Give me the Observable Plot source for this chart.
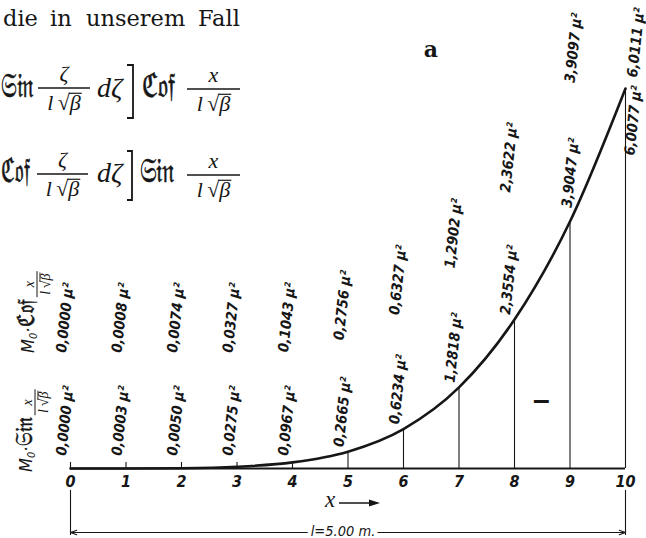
<!DOCTYPE html>
<html lang="de">
<head>
<meta charset="utf-8">
<title>Momentenlinie</title>
<script src="https://cdn.jsdelivr.net/npm/d3@7"></script>
<script src="https://cdn.jsdelivr.net/npm/@observablehq/plot@0.6"></script>
<style>
  html, body { margin: 0; background: #fff; }
  #page { position: relative; width: 646px; height: 538px; overflow: hidden; background: #fff; }
  #page > svg { position: absolute; left: 0; top: 0; }
</style>
</head>
<body>
<div id="page"></div>
<script>
// Stations along the beam (tenths of the span) and the two moment series in μ²
const xs = [0, 1, 2, 3, 4, 5, 6, 7, 8, 9, 10];
const sinValues = [0.0000, 0.0003, 0.0050, 0.0275, 0.0967, 0.2665, 0.6234, 1.2818, 2.3554, 3.9047, 6.0077];
const cosValues = [0.0000, 0.0008, 0.0074, 0.0327, 0.1043, 0.2756, 0.6327, 1.2902, 2.3622, 3.9097, 6.0111];
const tickLabels = ["0", "1", "2", "3", "4", "5", "6", "7", "8", "9", "10"];
const spanLabel = "l=5.00 m.";

const INK = "#161616";
const NARROW = "'DejaVu Sans Condensed', 'Liberation Sans Narrow', 'DejaVu Sans', sans-serif";
const SERIF = "'DejaVu Serif', 'Liberation Serif', serif";
const MATH = "'Liberation Serif', 'DejaVu Serif', serif";
const SIN = "\u{1D516}\u{1D526}\u{1D52B}";   // Fraktur "Sin"
const COF = "\u212D\u{1D52C}\u{1D523}";      // Fraktur "Cof"

const rows = xs.map((x, i) => ({x, sin: sinValues[i], cos: cosValues[i], i}));
const last = rows.length - 1;
const mid = (xs[0] + xs[last]) / 2;
const fmt = v => v.toFixed(4).replace(".", ",") + " μ²";

const W = 646, H = 538, mTop = 88.5, mBottom = 70;
const yMax = 6;
const PX = (H - mTop - mBottom) / yMax;   // pixels per μ² unit
const u = px => px / PX;                   // pixel offset in y units

// Cof labels sit above the Sin labels and climb with the curve
const cosLabelY = d => Math.max(u(116), u(109) + 1.12 * d.cos);

const labelStyle = {fontFamily: NARROW, fontSize: 14.5, fontStyle: "italic", fontWeight: "bold", fill: INK, rotate: -84};
const early = rows.filter(d => d.i < 9);
const ninth = rows.filter(d => d.i === 9);
const end = rows.filter(d => d.i === last);

const chart = Plot.plot({
  width: W, height: H,
  marginTop: mTop, marginBottom: mBottom, marginLeft: 70, marginRight: 21,
  style: {background: "transparent", color: INK},
  x: {domain: [xs[0], xs[last]]},
  y: {domain: [0, yMax], axis: null},
  marks: [
    Plot.ruleY([0], {x1: xs[0], x2: xs[last], stroke: INK, strokeWidth: 2}),
    // station ticks and ordinates up to the curve
    Plot.ruleX(rows, {x: "x", y1: 0, y2: d => Math.max(d.sin, u(6)), stroke: INK, strokeWidth: 1.1}),
    Plot.line(rows, {x: "x", y: "sin", curve: "monotone-x", stroke: INK, strokeWidth: 2.6}),
    // lower row: M0·Sin values
    Plot.text(early, {x: "x", y: d => Math.max(d.sin, u(8)), text: d => fmt(d.sin), textAnchor: "start", dx: -9, dy: -5, ...labelStyle}),
    Plot.text(ninth, {x: "x", y: "sin", text: d => fmt(d.sin), textAnchor: "start", dx: -3, dy: -14, ...labelStyle}),
    Plot.text(end, {x: "x", y: "sin", text: d => fmt(d.sin), textAnchor: "end", dx: 11.5, dy: -3, ...labelStyle}),
    // upper row: M0·Cof values
    Plot.text(early, {x: "x", y: cosLabelY, text: d => fmt(d.cos), textAnchor: "start", dx: -9, ...labelStyle}),
    Plot.text(ninth, {x: "x", y: cosLabelY, text: d => fmt(d.cos), textAnchor: "start", dx: 0, ...labelStyle}),
    Plot.text(end, {x: "x", y: "cos", text: d => fmt(d.cos), textAnchor: "start", dx: 7, dy: -11, ...labelStyle}),
    Plot.axisX(xs, {
      tickSize: 0, tickPadding: 7, label: null,
      tickFormat: d => tickLabels[xs.indexOf(d)],
      fontFamily: NARROW, fontSize: 16, fontStyle: "italic", fontWeight: "bold", fill: INK
    }),
    // span dimension
    Plot.ruleX([xs[0], xs[last]], {x: d => d, y1: -u(22), y2: -u(67), stroke: INK, strokeWidth: 1.1}),
    Plot.arrow([xs[0], xs[last]], {x1: mid, x2: d => d, y1: -u(64), y2: -u(64), headLength: 9, headAngle: 40, stroke: INK, strokeWidth: 1.1}),
    Plot.text([spanLabel], {x: mid, y: -u(64), text: d => d, dx: -5, dy: -1, fontFamily: NARROW, fontSize: 14.5, fontStyle: "italic",
      fill: INK, stroke: "white", strokeWidth: 8, paintOrder: "stroke"})
  ]
});

const page = document.getElementById("page");
page.append(chart);

// page text and formulas around the figure
const over = d3.select(page).append("svg").attr("width", W).attr("height", H);

function text(g, x, y, s, o = {}) {
  return g.append("text").attr("x", x).attr("y", y)
    .attr("font-family", o.family || SERIF).attr("font-size", o.size || 22)
    .attr("font-style", o.style || "normal").attr("font-weight", o.weight || "normal")
    .attr("text-anchor", o.anchor || "start").attr("fill", INK).text(s);
}
function frak(g, x, y, s, size = 34, sx = 0.7) {
  const t = g.append("g").attr("transform", `translate(${x},${y}) scale(${sx},1)`);
  return text(t, 0, 0, s, {size, family: SERIF}).attr("stroke", INK).attr("stroke-width", 0.6);
}
function line(g, x1, y1, x2, y2, w = 1.3) {
  g.append("line").attr("x1", x1).attr("y1", y1).attr("x2", x2).attr("y2", y2)
    .attr("stroke", INK).attr("stroke-width", w);
}
function fraction(g, x0, x1, barY, num, size, numGap = 0.3, denGap = 0.98) {
  const cx = (x0 + x1) / 2;
  const w = size > 15 ? 1.3 : 1;
  line(g, x0, barY, x1, barY, w);
  text(g, cx, barY - numGap * size, num, {size, style: "italic", anchor: "middle", family: MATH});
  const base = barY + denGap * size;
  const s = "l\u2009√β";
  const den = text(g, cx, base, s, {size, style: "italic", anchor: "middle", family: MATH}).node();
  const k = s.indexOf("β");
  const a = den.getStartPositionOfChar(k).x, b = den.getEndPositionOfChar(k).x;
  const vy = base - 0.74 * size;
  line(g, a - 1, vy, b + 1, vy, w * 0.9);
}
function bracket(g, x0, x1, y0, y1) {
  g.append("path").attr("d", `M${x0},${y0}H${x1}V${y1}H${x0}`).attr("fill", "none")
    .attr("stroke", INK).attr("stroke-width", 1.8);
}

// running text
[["die", 3], ["in", 50], ["unserem", 86], ["Fall", 198]].forEach(([w, x]) => text(over, x, 26, w, {size: 22.5}));

// first formula line
frak(over, 1, 97, SIN, 34, 0.66);
fraction(over, 38, 90, 88, "ζ", 22);
text(over, 97, 97, "dζ", {size: 28, style: "italic", family: MATH});
bracket(over, 127, 133, 65, 118);
frak(over, 142, 97, COF);
fraction(over, 187, 240, 89, "x", 22);

// second formula line
frak(over, 1, 182, COF, 34, 0.6);
fraction(over, 37, 88, 174, "ζ", 22);
text(over, 97, 182, "dζ", {size: 28, style: "italic", family: MATH});
bracket(over, 127, 132, 151, 200);
frak(over, 140, 182, SIN);
fraction(over, 187, 240, 175, "x", 22);

// figure letter
text(over, 431, 57, "a", {size: 22, weight: "bold", anchor: "middle"});

// row titles at the left
function rowTitle(bx, by, fn) {
  const g = over.append("g").attr("transform", `translate(${bx},${by}) rotate(-90)`);
  const t = g.append("text").attr("x", 0).attr("y", 0).attr("fill", INK)
    .attr("font-family", NARROW).attr("font-size", 18).attr("font-style", "italic");
  t.append("tspan").text("M");
  t.append("tspan").attr("font-size", 11).attr("dy", 3).text("0");
  t.append("tspan").attr("dy", -3).text("·");
  const len = t.node().getComputedTextLength();
  const f = frak(g, len + 1, 0, fn, 24, 0.8);
  const flen = f.node().getComputedTextLength() * 0.8;
  fraction(g, len + flen + 3, len + flen + 29, 3, "x", 14, 0.25, 0.95);
}
rowTitle(34, 353, COF);
rowTitle(32, 472, SIN);

// axis name with arrow
text(over, 325, 507, "x", {size: 23, style: "italic", family: MATH});
line(over, 339, 503, 372, 503, 1.5);
over.append("path").attr("d", "M380,503L369,499.5L369,506.5Z").attr("fill", INK);

// sign mark in the field
text(over, 533, 410, "–", {family: "'Liberation Sans', sans-serif", size: 30, weight: "bold"});
</script>
</body>
</html>
